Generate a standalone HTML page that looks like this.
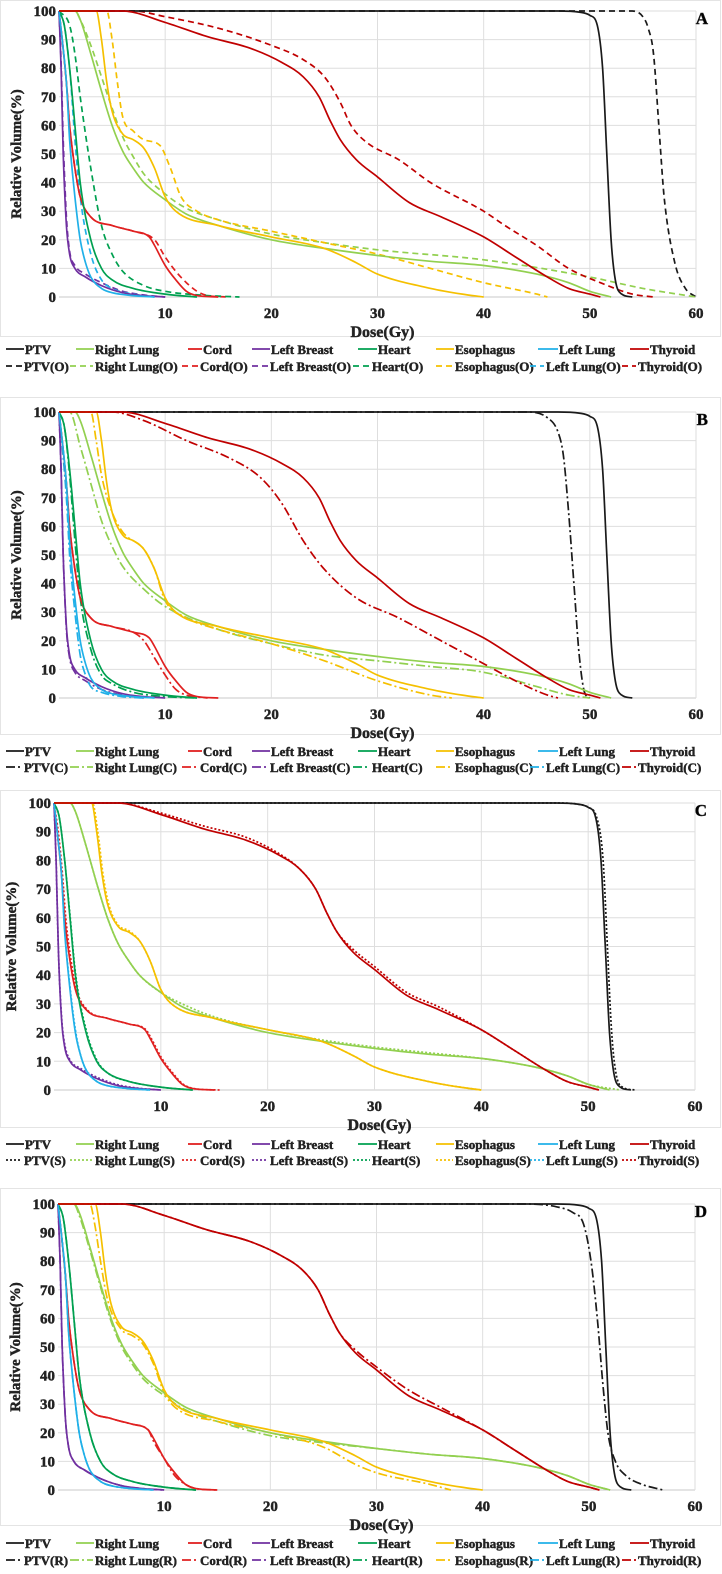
<!DOCTYPE html>
<html><head><meta charset="utf-8">
<style>
html,body{margin:0;padding:0;background:#fff;}
svg{display:block;}
svg text{font-family:"Liberation Serif",serif;font-weight:bold;stroke:#222;stroke-width:0.45px;}
</style></head>
<body>
<svg id="fig" width="722" height="1574" viewBox="0 0 722 1574" xmlns="http://www.w3.org/2000/svg"></svg>
<script>
// ---- data: [dose Gy, relative volume %] ----
const organNames = ["PTV","Right Lung","Cord","Left Breast","Heart","Esophagus","Left Lung","Thyroid"];
const organColors = ["#1a1a1a","#92d050","#e02020","#7030a0","#00a050","#f5c000","#20b0e8","#c00000"];
const basePTV = [[0,100],[47,100],[49,99.6],[50,98.5],[50.7,95],[51.2,80],[51.6,50],[52,20],[52.4,6],[53,1],[54,0]];
const baseRLung = [[0,100],[1.5,100],[2,97],[3,85],[4,72],[5,60],[6,51],[7,45],[8,40],[10,34],[12,29],[15,25],[20,20],[25,17],[30,14.5],[35,12.5],[40,11],[45,8],[48,5],[50,2],[52,0]];
const baseCord = [[0,100],[0.3,90],[0.7,75],[1,60],[1.5,45],[2,35],[3,28],[5,25],[7,23],[8.5,21],[9,18],[10,11],[11,6],[12,2],[13,0.5],[15,0]];
const baseLBreast = [[0,100],[0.2,80],[0.4,50],[0.7,25],[1,15],[1.5,10],[2.5,7],[4,4],[6,1.5],[8,0.5],[10,0]];
const baseHeart = [[0,100],[0.5,95],[1,80],[1.5,60],[2,40],[3,20],[4,10],[5,6],[7,3],[10,1],[13,0]];
const baseEso = [[0,100],[3.5,100],[4,90],[4.5,75],[5,65],[6,57],[7,55],[8,52],[9,45],[10,35],[11,30],[15,25],[20,21],[25,17],[28,12],[30,8],[35,3],[38,1],[40,0]];
const baseLLung = [[0,100],[0.3,90],[0.7,75],[1,55],[1.5,35],[2,20],[2.5,12],[3,7],[4,3],[5,1.5],[7,0.5],[9,0]];
const baseThyroid = [[0,100],[6,100],[10,96],[14,91],[18,87],[21,82],[23,77],[24.5,70],[25.5,62],[26.5,55],[28,48],[30,42],[33,33],[36,28],[40,21],[43,14],[46,7],[48,3],[50,1],[51,0]];
const baseSeries = [basePTV,baseRLung,baseCord,baseLBreast,baseHeart,baseEso,baseLLung,baseThyroid];

// panel A (O)
const oPTV = [[0,100],[54,100],[55,98],[55.5,94],[56,85],[56.5,60],[57,35],[58,12],[59,3],[60,0]];
const oRLung = [[0,100],[1.5,100],[2,97],[3,88],[4,77],[5,66],[6,56],[7,49],[8,43],[10,36],[12,31],[15,27],[20,22],[25,19],[30,16.5],[40,13],[50,7],[55,3],[60,0]];
const oCord = [[0,100],[0.3,90],[0.7,75],[1,60],[1.5,45],[2,35],[3,28],[5,25],[7,23],[9,20],[10,14],[11,9],[12,5],[13,2],[14,0.5],[16,0]];
const oLBreast = [[0,100],[0.2,82],[0.4,55],[0.7,28],[1,16],[1.5,11],[2.5,8],[4,5],[6,2],[8,0.7],[10,0]];
const oHeart = [[0,100],[1,95],[1.5,85],[2,70],[3,45],[4,25],[5,15],[6,9],[8,4],[10,2],[14,0.5],[17,0]];
const oEso = [[0,100],[4.5,100],[5,90],[5.5,75],[6,63],[7,58],[8,55],[9.5,53],[10.5,45],[11.5,35],[13,30],[15,27],[20,23],[25,19],[30,15],[35,10],[40,5],[45,1],[46,0]];
const oLLung = [[0,100],[0.5,95],[1,80],[1.5,55],[2,35],[3,15],[4,6],[5,3],[7,1],[9,0]];
const oThyroid = [[0,100],[7,100],[10,98],[15,94],[20,88],[23,83],[25,77],[26.5,68],[27.5,60],[29,54],[32,48],[35,40],[40,30],[42,25],[45,18],[48,10],[51,5],[54,1],[56,0]];
const seriesO = [oPTV,oRLung,oCord,oLBreast,oHeart,oEso,oLLung,oThyroid];

// panel B (C)
const cPTV = [[0,100],[44,100],[46,98],[47,93],[47.5,85],[48,65],[48.5,40],[49,15],[49.5,2],[50,0]];
const cRLung = [[0,100],[1,100],[2,88],[3,75],[4,62],[5,53],[6,46],[8,38],[10,32],[15,24],[20,19],[25,15],[30,13],[35,11],[40,9],[45,4],[48,1],[50,0]];
const cCord = [[0,100],[0.3,90],[0.7,75],[1,60],[1.5,45],[2,35],[3,28],[5,25],[7,23],[8,20],[9,14],[10,8],[11,3],[12,1],[14,0]];
const cLBreast = [[0,100],[0.2,80],[0.4,50],[0.7,24],[1,14],[1.5,9],[2.5,6],[4,3],[6,1],[8,0]];
const cHeart = [[0,100],[0.5,95],[1,78],[1.5,55],[2,35],[3,17],[4,8],[5,5],[7,2],[10,0.5],[13,0]];
const cEso = [[0,100],[3,100],[3.5,90],[4,78],[5,65],[6,58],[8,52],[9,45],[10,34],[12,28],[15,24],[20,19],[25,13],[30,6],[35,1],[37,0]];
const cLLung = [[0,100],[0.3,88],[0.7,70],[1,50],[1.5,30],[2,15],[2.5,8],[3,4],[4,2],[6,0.5],[8,0]];
const cThyroid = [[0,100],[5,100],[8,97],[12,90],[16,84],[19,77],[21,68],[23,55],[25,45],[28,35],[32,28],[36,20],[40,12],[43,6],[46,1],[47,0]];
const seriesC = [cPTV,cRLung,cCord,cLBreast,cHeart,cEso,cLLung,cThyroid];

// panel C (S)
const sPTV = [[0,100],[47,100],[49,99.6],[50,98.5],[50.8,95],[51.4,80],[51.8,50],[52.2,20],[52.6,6],[53.2,1],[54.5,0]];
const sRLung = [[0,100],[1.5,100],[2,97],[3,85],[4,72],[5,60],[6,51],[7,45],[8,40],[10,34],[12,30],[15,25.5],[20,21],[25,17.5],[30,15],[35,13],[40,11],[45,8],[48,5],[50,2],[53,0]];
const sCord = [[0,100],[0.4,90],[0.8,75],[1.1,60],[1.6,45],[2.1,35],[3.1,28],[5,25],[7,23],[8.6,21],[9.1,18],[10.1,11],[11.1,6],[12.1,2],[13.1,0.5],[15.5,0]];
const sLBreast = [[0,100],[0.2,80],[0.4,50],[0.7,26],[1,16],[1.5,10.5],[2.5,7.5],[4,4.5],[6,1.8],[8,0.6],[10,0]];
const sHeart = [[0,100],[0.5,95],[1,80],[1.5,61],[2,41],[3,21],[4,10.5],[5,6],[7,3],[10,1],[13,0]];
const sEso = [[0,100],[3.6,100],[4.1,90],[4.6,75],[5.1,65],[6,57.5],[7,55.5],[8,52],[9,45],[10,35],[11,30],[15,25],[20,21],[25,17],[28,12],[30,8],[35,3],[38,1],[40,0]];
const sLLung = [[0,100],[0.3,90],[0.7,76],[1,56],[1.5,36],[2,21],[2.5,12],[3,7],[4,3],[5,1.5],[7,0.5],[9,0]];
const sThyroid = [[0,100],[6,100],[10,96.5],[14,92],[18,88],[21,82.5],[23,77],[24.5,70],[25.5,62],[26.5,55],[28,49],[30,43],[33,34],[36,29],[40,21],[43,14],[46,7],[48,3],[50,1],[51,0]];
const seriesS = [sPTV,sRLung,sCord,sLBreast,sHeart,sEso,sLLung,sThyroid];

// panel D (R)
const rPTV = [[0,100],[44,100],[47,99],[48.5,97],[49.5,93],[50.2,80],[50.8,60],[51.3,38],[51.8,20],[52.5,10],[53.5,5],[55,2],[57,0]];
const rRLung = [[0,100],[1.5,100],[2,96],[3,84],[4,71],[5,59],[6,50],[7,44],[8,39],[10,33],[12,28],[15,24],[20,19],[25,16.5],[30,14.5],[35,12.5],[40,11],[45,8],[48,5],[50,2],[52,0]];
const rCord = [[0,100],[0.3,90],[0.7,75],[1,60],[1.5,45],[2,35],[3,28],[5,25],[7,23],[8.5,21],[9,17],[10,11],[11,5],[12,2],[13,0.5],[15,0]];
const rLBreast = [[0,100],[0.2,80],[0.4,50],[0.7,25],[1,15],[1.5,10],[2.5,7],[4,4],[6,1.5],[8,0.5],[10,0]];
const rHeart = [[0,100],[0.5,95],[1,80],[1.5,60],[2,40],[3,20],[4,10],[5,6],[7,3],[10,1],[13,0]];
const rEso = [[0,100],[3,100],[3.5,92],[4,80],[4.7,66],[6,56],[7,54],[8,51],[9,44],[10,34],[11,29],[15,24],[20,20],[25,15],[28,9],[30,6],[35,2],[37,0]];
const rLLung = [[0,100],[0.3,90],[0.7,75],[1,55],[1.5,35],[2,20],[2.5,12],[3,7],[4,3],[5,1.5],[7,0.5],[9,0]];
const rThyroid = [[0,100],[6,100],[10,96],[14,91],[18,87],[21,82],[23,77],[24.5,70],[25.5,62],[26.5,55],[28,49],[30,43],[33,35],[36,29],[40,21],[43,14],[46,7],[48,3],[50,1],[51,0]];
const seriesR = [rPTV,rRLung,rCord,rLBreast,rHeart,rEso,rLLung,rThyroid];

const xTicks = [0,10,20,30,40,50,60];
const yTicks = [0,10,20,30,40,50,60,70,80,90,100];

const panels = [
 {id:"a",letter:"A",suffix:"O",alt:seriesO,dash:"6,4",x0:59,x1:696,yT:11,yB:297,leg:[354,371],frame:[0,0,720,336]},
 {id:"b",letter:"B",suffix:"C",alt:seriesC,dash:"9,3,2,3",x0:59,x1:696,yT:412,yB:698,leg:[756,772],frame:[0,397,720,337]},
 {id:"c",letter:"C",suffix:"S",alt:seriesS,dash:"2,2",x0:54,x1:695,yT:803,yB:1090,leg:[1149,1165],frame:[0,790,720,337]},
 {id:"d",letter:"D",suffix:"R",alt:seriesR,dash:"9,3,2,3",x0:58,x1:695,yT:1204,yB:1490,leg:[1548,1565],frame:[0,1188,720,337]}
];
const legLineX = [6,76,188,252,358,436,538,630];
const legTextX = [25,95,203,271,378,455,559,650];
const leg2LineX = [6,70,182,252,353,436,530,622];
const leg2TextX = [24,95,200,270,372,455,546,638];

const NS="http://www.w3.org/2000/svg";
const svg=document.getElementById("fig");
function mk(tag,attrs,parent){const e=document.createElementNS(NS,tag);for(const k in attrs)e.setAttribute(k,attrs[k]);(parent||svg).appendChild(e);return e;}

function smoothPath(P){
  const n=P.length; if(n<2) return "";
  const d=[],m=new Array(n);
  for(let i=0;i<n-1;i++){const dx=P[i+1][0]-P[i][0];d.push(dx===0?0:(P[i+1][1]-P[i][1])/dx);}
  m[0]=d[0];m[n-1]=d[n-2];
  for(let i=1;i<n-1;i++){m[i]=(d[i-1]*d[i]<=0)?0:(d[i-1]+d[i])/2;}
  for(let i=0;i<n-1;i++){
    if(d[i]===0){m[i]=0;m[i+1]=0;continue;}
    const a=m[i]/d[i],b=m[i+1]/d[i],s=a*a+b*b;
    if(s>9){const t=3/Math.sqrt(s);m[i]=t*a*d[i];m[i+1]=t*b*d[i];}
  }
  let s="M"+P[0][0].toFixed(1)+","+P[0][1].toFixed(1);
  for(let i=0;i<n-1;i++){
    const h=(P[i+1][0]-P[i][0])/3;
    s+=" C"+(P[i][0]+h).toFixed(1)+","+(P[i][1]+m[i]*h).toFixed(1)+" "+(P[i+1][0]-h).toFixed(1)+","+(P[i+1][1]-m[i+1]*h).toFixed(1)+" "+P[i+1][0].toFixed(1)+","+P[i+1][1].toFixed(1);
  }
  return s;
}

panels.forEach(p=>{
  const g=mk("g",{});
  
  
  const xs=d=>p.x0+(d/60)*(p.x1-p.x0);
  const ys=v=>p.yB-(v/100)*(p.yB-p.yT);
  const fr=mk("rect",{x:p.frame[0]+0.5,y:p.frame[1]+0.5,width:p.frame[2],height:p.frame[3],fill:"none",stroke:"#e4e4e4","stroke-width":1},g);
  
  
  yTicks.forEach(t=>{
    const l=mk("line",{x1:p.x0,x2:p.x1,y1:ys(t),y2:ys(t),stroke:t===0?"#c8c8c8":"#dedede","stroke-width":1},g);
    
    
    const tx=mk("text",{x:p.x0-3,y:ys(t)+5,"text-anchor":"end","font-size":"15","font-weight":"bold",fill:"#222"},g);
    tx.textContent=t;
    
    
  });
  xTicks.forEach(t=>{
    if(t>0){
      const l=mk("line",{x1:xs(t),x2:xs(t),y1:p.yT,y2:p.yB,stroke:"#dedede","stroke-width":1},g);
      
      
      const tx=mk("text",{x:xs(t),y:p.yB+21,"text-anchor":"middle","font-size":"15","font-weight":"bold",fill:"#222"},g);
      tx.textContent=t;
      
      
    }
  });
  const xt=mk("text",{x:(p.x0+p.x1)/2+5,y:p.yB+40,"text-anchor":"middle","font-size":"16","font-weight":"bold",fill:"#222"},g);
  xt.textContent="Dose(Gy)";
  
  
  const yt=mk("text",{x:0,y:0,"text-anchor":"middle","font-size":"15","font-weight":"bold",fill:"#222",transform:`translate(${p.x0-38},${(p.yT+p.yB)/2}) rotate(-90)`},g);
  yt.textContent="Relative Volume(%)";
  
  
  const lt=mk("text",{x:p.x1+12,y:p.yT+13,"text-anchor":"end","font-size":"17","font-weight":"bold",fill:"#000"},g);
  lt.textContent=p.letter;
  
  
  const path=pts=>smoothPath(pts.map(q=>[xs(q[0]),ys(q[1])]));
  p.alt.forEach((s,i)=>{
    const e=mk("path",{d:path(s),fill:"none",stroke:organColors[i],"stroke-width":1.7,"stroke-dasharray":p.dash},g);
    
    
  });
  baseSeries.forEach((s,i)=>{
    const e=mk("path",{d:path(s),fill:"none",stroke:organColors[i],"stroke-width":1.7},g);
    
    
  });
  organNames.forEach((n,i)=>{
    const y1=p.leg[0], y2=p.leg[1];
    const l1=mk("line",{x1:legLineX[i],x2:legTextX[i]-1,y1:y1-5,y2:y1-5,stroke:organColors[i],"stroke-width":1.8},g);
    
    
    const t1=mk("text",{x:legTextX[i],y:y1,"font-size":"13","font-weight":"bold",fill:"#222"},g);
    t1.textContent=n;
    
    
    const l2=mk("line",{x1:leg2LineX[i],x2:leg2TextX[i]-2,y1:y2-5,y2:y2-5,stroke:organColors[i],"stroke-width":1.8,"stroke-dasharray":p.dash},g);
    
    
    const t2=mk("text",{x:leg2TextX[i],y:y2,"font-size":"13","font-weight":"bold",fill:"#222"},g);
    t2.textContent=n+"("+p.suffix+")";
    
    
  });
});
</script>
</body></html>
